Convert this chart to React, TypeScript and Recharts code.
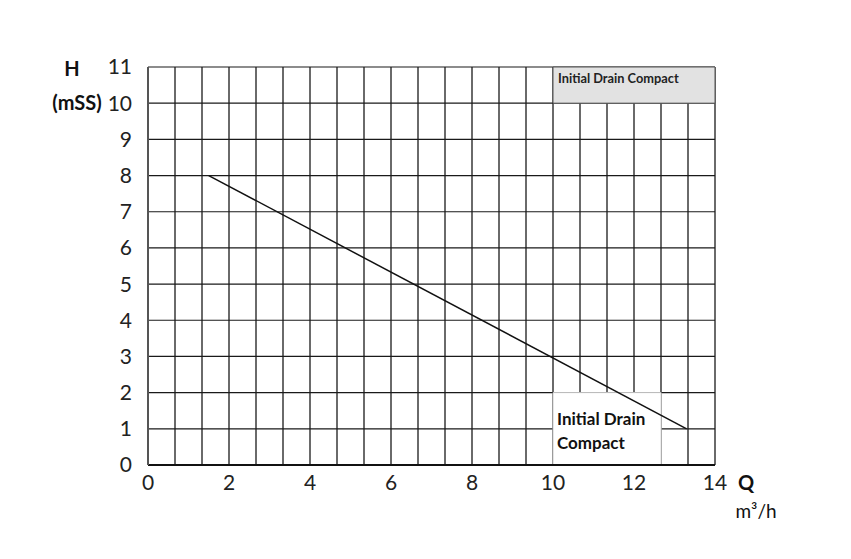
import {
  LineChart,
  Line,
  XAxis,
  YAxis,
  CartesianGrid,
  ReferenceArea,
} from "recharts";

// pump curve: flow Q (m³/h) vs head H (mSS)
const flowQ = [1.5, 13.3];
const headH = [8, 1];
const qTicks = [0, 2, 4, 6, 8, 10, 12, 14];
const hTicks = [0, 1, 2, 3, 4, 5, 6, 7, 8, 9, 10, 11];
const gridQ = Array.from({ length: 22 }, (_, i) => (i * 2) / 3);
const seriesName = "Initial Drain Compact";

const data = flowQ.map((q, i) => ({ q, h: headH[i] }));

const FONT = "Lato, 'Open Sans', sans-serif";

function TopLegend(props: any) {
  const { x, y } = props.viewBox;
  return (
    <text x={x + 5} y={y + 16} fontFamily={FONT} fontWeight={700} fontSize={12.8} fill="#222">
      {seriesName}
    </text>
  );
}

function BottomLegend(props: any) {
  const { x, y } = props.viewBox;
  return (
    <text fontFamily={FONT} fontWeight={700} fontSize={17} fill="#111">
      <tspan x={x + 4} y={y + 32}>Initial Drain</tspan>
      <tspan x={x + 4} y={y + 56}>Compact</tspan>
    </text>
  );
}

function YTitle(props: any) {
  const { x, y, width } = props.viewBox;
  const px = x + width; // plot left edge
  return (
    <text fontFamily={FONT} fontWeight={700} fontSize={20} fill="#111" textAnchor="middle">
      <tspan x={px - 76} y={y + 9}>H</tspan>
      <tspan x={px - 71} y={y + 43}>(mSS)</tspan>
    </text>
  );
}

function XTitle(props: any) {
  const { x, y, width } = props.viewBox;
  return (
    <g fontFamily={FONT} fill="#111">
      <text x={x + width + 31} y={y + 25} fontWeight={700} fontSize={20} textAnchor="middle">
        Q
      </text>
      <text x={x + width + 41} y={y + 53} fontSize={19} textAnchor="middle">
        m³/h
      </text>
    </g>
  );
}

export default function App() {
  return (
    <div style={{ position: "absolute", left: 0, top: 0, background: "#fff" }}>
      <LineChart
        width={851}
        height={559}
        data={data}
        margin={{ top: 67, right: 136, left: 88, bottom: 54 }}
      >
        <CartesianGrid
          horizontal={false}
          verticalValues={gridQ}
          stroke="#6a6a6a"
          strokeWidth={2}
        />
        <CartesianGrid
          vertical={false}
          horizontalValues={hTicks}
          stroke="#1a1a1a"
          strokeWidth={1.2}
        />
        <XAxis
          dataKey="q"
          type="number"
          domain={[0, 14]}
          ticks={qTicks}
          height={40}
          tickLine={false}
          axisLine={{ stroke: "#111", strokeWidth: 2 }}
          tick={{ fontFamily: FONT, fontSize: 21, fill: "#222" }}
          tickMargin={4}
          interval={0}
          label={<XTitle />}
        />
        <YAxis
          type="number"
          domain={[0, 11]}
          ticks={hTicks}
          width={60}
          tickLine={false}
          axisLine={{ stroke: "#555", strokeWidth: 2 }}
          tick={{ fontFamily: FONT, fontSize: 21, fill: "#222" }}
          tickMargin={10}
          interval={0}
          label={<YTitle />}
        />
        <ReferenceArea
          x1={10}
          x2={14}
          y1={10}
          y2={11}
          fill="#e2e2e2"
          fillOpacity={1}
          stroke="#555"
          strokeWidth={1}
          label={<TopLegend />}
        />
        <ReferenceArea
          x1={10}
          x2={12.67}
          y1={0}
          y2={2}
          fill="#fff"
          fillOpacity={1}
          stroke="#ccc"
          strokeWidth={1}
          label={<BottomLegend />}
        />
        <Line
          dataKey="h"
          stroke="#111"
          strokeWidth={1.5}
          dot={false}
          isAnimationActive={false}
        />
      </LineChart>
    </div>
  );
}
